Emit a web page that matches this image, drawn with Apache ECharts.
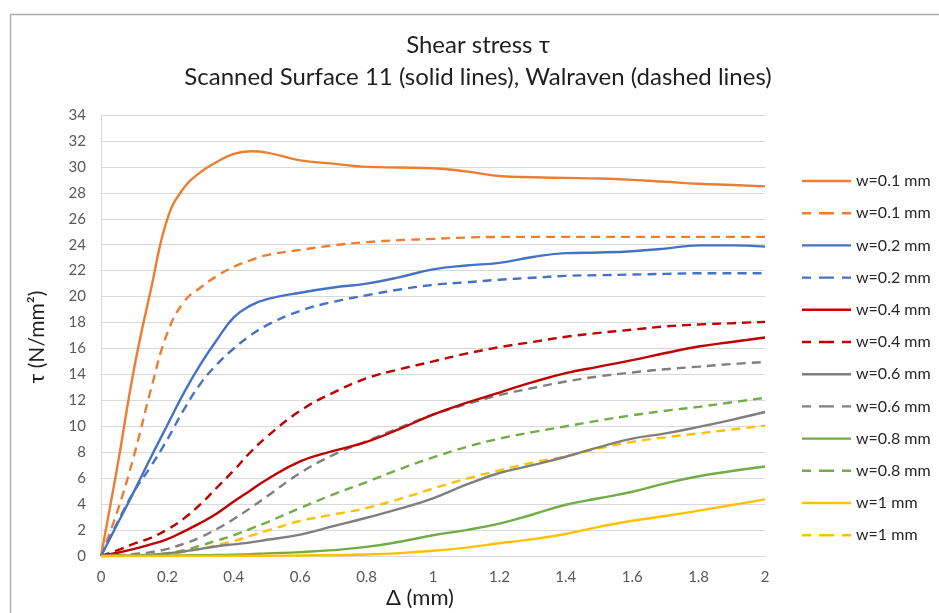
<!DOCTYPE html>
<html>
<head>
<meta charset="utf-8">
<script src="https://cdn.jsdelivr.net/npm/echarts@6/dist/echarts.min.js"></script>
<style>
  html, body { margin: 0; padding: 0; background: #ffffff; }
  #chart { width: 939px; height: 613px; }
</style>
</head>
<body>
<div id="chart"></div>
<script>
// Slip Δ (mm) at which every curve is sampled
const slip = [0, 0.05, 0.1, 0.15, 0.2, 0.25, 0.3, 0.35, 0.4, 0.45, 0.5, 0.6, 0.7, 0.8, 0.9, 1.0,
              1.1, 1.2, 1.3, 1.4, 1.5, 1.6, 1.7, 1.8, 1.9, 2.0];

// Shear stress τ (N/mm²) from the scanned surface (solid lines)
const scan01 = [0, 7, 14.5, 20.5, 26.0, 28.4, 29.6, 30.4, 31.0, 31.2, 31.1, 30.5, 30.25, 30.0, 29.95, 29.9,
                29.65, 29.3, 29.2, 29.15, 29.1, 29.0, 28.85, 28.7, 28.6, 28.5];
const scan02 = [0, 2.5, 5.0, 7.6, 10.1, 12.6, 14.8, 16.7, 18.4, 19.3, 19.8, 20.3, 20.7, 21.0, 21.5, 22.1,
                22.4, 22.6, 23.05, 23.35, 23.4, 23.5, 23.7, 23.95, 23.95, 23.85];
const scan04 = [0, 0.25, 0.55, 0.9, 1.3, 1.9, 2.55, 3.3, 4.2, 5.05, 5.9, 7.3, 8.1, 8.8, 9.8, 10.9,
                11.8, 12.6, 13.4, 14.1, 14.6, 15.1, 15.65, 16.15, 16.5, 16.85];
const scan06 = [0, 0.02, 0.05, 0.1, 0.2, 0.35, 0.55, 0.75, 0.9, 1.05, 1.25, 1.65, 2.3, 2.95, 3.65, 4.45,
                5.5, 6.4, 7.0, 7.65, 8.4, 9.05, 9.45, 9.95, 10.5, 11.1];
const scan08 = [0, 0, 0.01, 0.02, 0.03, 0.05, 0.06, 0.08, 0.1, 0.14, 0.2, 0.3, 0.45, 0.7, 1.1, 1.6,
                2.0, 2.5, 3.2, 3.95, 4.45, 4.95, 5.6, 6.15, 6.55, 6.9];
const scan10 = [0, 0, 0, 0, 0, 0, 0, 0.01, 0.01, 0.02, 0.02, 0.04, 0.07, 0.12, 0.22, 0.4,
                0.65, 0.98, 1.3, 1.7, 2.25, 2.72, 3.08, 3.5, 3.93, 4.37];

// Shear stress τ (N/mm²) after Walraven (dashed lines)
const walr01 = [0, 3.5, 7.8, 12.8, 17.2, 19.6, 20.7, 21.6, 22.3, 22.8, 23.2, 23.6, 23.95, 24.2, 24.35, 24.45,
                24.55, 24.6, 24.6, 24.6, 24.6, 24.6, 24.6, 24.6, 24.6, 24.6];
const walr02 = [0, 2.6, 5.0, 6.9, 9.0, 11.3, 13.3, 14.8, 16.0, 17.0, 17.8, 18.9, 19.6, 20.1, 20.55, 20.9,
                21.1, 21.3, 21.45, 21.6, 21.65, 21.7, 21.75, 21.8, 21.8, 21.8];
const walr04 = [0, 0.45, 0.95, 1.4, 2.05, 2.9, 4.0, 5.3, 6.6, 8.0, 9.2, 11.2, 12.6, 13.7, 14.4, 15.0,
                15.6, 16.1, 16.5, 16.9, 17.2, 17.45, 17.7, 17.85, 17.95, 18.05];
const walr06 = [0, 0.05, 0.15, 0.3, 0.55, 0.95, 1.45, 2.1, 2.85, 3.7, 4.6, 6.4, 7.8, 8.85, 9.9, 10.9,
                11.7, 12.4, 12.95, 13.45, 13.85, 14.15, 14.4, 14.6, 14.8, 14.95];
const walr08 = [0, 0.01, 0.03, 0.08, 0.22, 0.45, 0.8, 1.2, 1.6, 2.1, 2.6, 3.7, 4.75, 5.7, 6.7, 7.6,
                8.4, 9.05, 9.55, 10.0, 10.45, 10.85, 11.2, 11.5, 11.85, 12.2];
const walr10 = [0, 0, 0.02, 0.06, 0.15, 0.33, 0.55, 0.85, 1.15, 1.55, 1.95, 2.7, 3.2, 3.7, 4.4, 5.2,
                5.95, 6.6, 7.2, 7.7, 8.3, 8.8, 9.15, 9.45, 9.75, 10.05];

const legendNames = ['w=0.1 mm', 'w=0.2 mm', 'w=0.4 mm', 'w=0.6 mm', 'w=0.8 mm', 'w=1 mm'];
const colors = ['#ED7D31', '#4472C4', '#C00000', '#7F7F7F', '#70AD47', '#FFC000'];
const scanSets = [scan01, scan02, scan04, scan06, scan08, scan10];
const walrSets = [walr01, walr02, walr04, walr06, walr08, walr10];

const FONT = 'Lato, "Open Sans", sans-serif';

// legend glyphs: a full stroke for measured curves, three dashes for Walraven
const SOLID_ICON = 'path://M0,0 H49 V2.4 H0 Z';
const DASH_ICON = 'path://M0,0 H9 V2.4 H0 Z M17,0 H32 V2.4 H17 Z M40,0 H49 V2.4 H40 Z';

function pairs(ys) {
  return slip.map((x, i) => [x, ys[i]]);
}

function lineSeries(name, color, ys, dashed) {
  return {
    type: 'line',
    name: name,
    data: pairs(ys),
    smooth: 0.45,
    symbol: 'none',
    showSymbol: false,
    clip: true,
    z: dashed ? 3 : 4,
    lineStyle: {
      color: color,
      width: 2.4,
      type: dashed ? [9, 6] : 'solid',
      cap: 'butt'
    },
    itemStyle: { color: color },
    emphasis: { disabled: true }
  };
}

const series = [];
const legendData = [];
for (let i = 0; i < legendNames.length; i++) {
  // two entries with the same label, so each gets its own key
  const solidKey = legendNames[i] + '\u200b';
  const dashKey = legendNames[i] + '\u200b\u200b';
  series.push(lineSeries(solidKey, colors[i], scanSets[i], false));
  series.push(lineSeries(dashKey, colors[i], walrSets[i], true));
  legendData.push({ name: solidKey, icon: SOLID_ICON, itemStyle: { color: colors[i] } });
  legendData.push({ name: dashKey, icon: DASH_ICON, itemStyle: { color: colors[i] } });
}

const chart = echarts.init(document.getElementById('chart'), null, { renderer: 'canvas' });

chart.setOption({
  animation: false,
  backgroundColor: '#ffffff',
  textStyle: { fontFamily: FONT },
  grid: { left: 101, right: 174, top: 115, bottom: 57, containLabel: false },
  graphic: [
    {
      type: 'rect',
      left: 8, top: 12,
      shape: { width: 1000, height: 700 },
      style: { fill: 'none', stroke: '#ADADAD', lineWidth: 1.5 },
      silent: true, z: -10
    },
    {
      type: 'text',
      x: 478, y: 45,
      style: { text: 'Shear stress τ', font: '24px ' + FONT, fill: '#1f1f1f', textAlign: 'center', textVerticalAlign: 'middle' }
    },
    {
      type: 'text',
      x: 478, y: 77,
      style: { text: 'Scanned Surface 11 (solid lines), Walraven (dashed lines)', font: '24px ' + FONT, fill: '#1f1f1f', textAlign: 'center', textVerticalAlign: 'middle' }
    },
    {
      type: 'text',
      x: 420, y: 598,
      style: { text: 'Δ (mm)', font: '22px ' + FONT, fill: '#1f1f1f', textAlign: 'center', textVerticalAlign: 'middle' }
    },
    {
      type: 'text',
      x: 37, y: 337,
      rotation: Math.PI / 2,
      style: { text: 'τ (N/mm²)', font: '21px ' + FONT, fill: '#1f1f1f', textAlign: 'center', textVerticalAlign: 'middle' }
    }
  ],
  legend: {
    data: legendData,
    orient: 'vertical',
    left: 802,
    top: 173,
    padding: 0,
    itemWidth: 49,
    itemHeight: 16,
    itemGap: 16.2,
    selectedMode: false,
    formatter: (n) => n.replace(/\u200b/g, ''),
    textStyle: { fontFamily: FONT, fontSize: 16, lineHeight: 16, color: '#262626' }
  },
  xAxis: {
    type: 'value',
    min: 0, max: 2, interval: 0.2,
    axisLine: { show: true, lineStyle: { color: '#D9D9D9', width: 1 } },
    axisTick: { show: false },
    splitLine: { show: false },
    axisLabel: {
      margin: 14,
      fontFamily: FONT, fontSize: 15, color: '#595959',
      formatter: (v) => String(Math.round(v * 10) / 10)
    }
  },
  yAxis: {
    type: 'value',
    min: 0, max: 34, interval: 2,
    axisLine: { show: true, lineStyle: { color: '#D9D9D9', width: 1 } },
    axisTick: { show: false },
    splitLine: { show: true, lineStyle: { color: '#D9D9D9', width: 1 } },
    axisLabel: { margin: 15, fontFamily: FONT, fontSize: 15, color: '#595959' }
  },
  series: series
});
</script>
</body>
</html>
